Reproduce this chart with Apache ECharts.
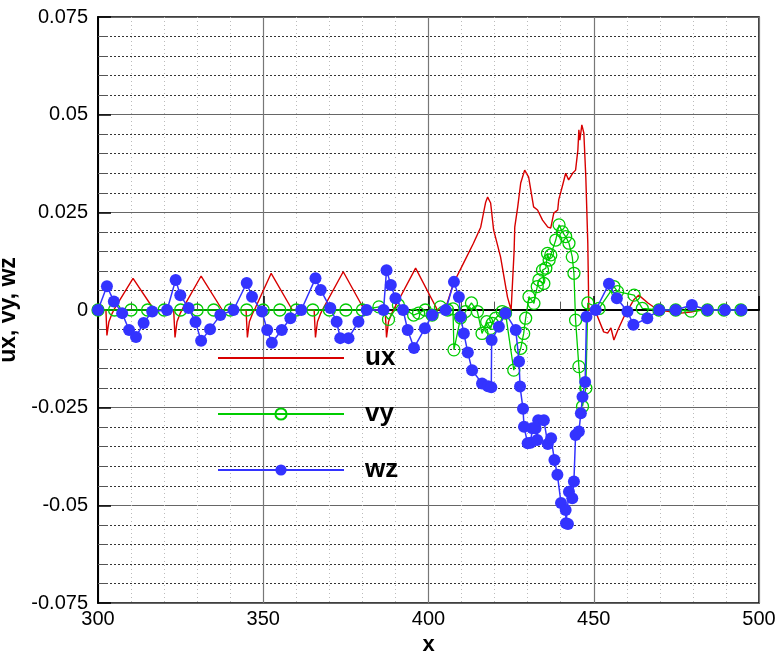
<!DOCTYPE html>
<html><head><meta charset="utf-8">
<script src="https://cdn.jsdelivr.net/npm/echarts@6/dist/echarts.min.js"></script>
<style>html,body{margin:0;padding:0;background:#fff}#c{width:777px;height:653px}</style>
</head><body><div id="c"></div>
<script>
const seriesNames = ['ux', 'vy', 'wz'];
const xRange = [300, 500];
const yRange = [-0.075, 0.075];

const uxX = [300,302.4,302.7,303.3,304.2,305.1,310.6,317.0,322.9,323.3,323.9,324.8,325.7,331.2,337.6,344.8,345.2,345.8,346.7,347.6,352.4,358.8,365.4,365.8,366.4,367.3,368.2,374.2,380.6,386.9,387.3,387.9,388.8,389.7,396.1,402.7,405.2,407.6,410.6,413.6,415.8,417.3,417.9,418.8,419.7,421.8,423.9,425.0,425.6,425.9,426.1,427.0,427.9,429.1,430.3,431.8,433.0,434.5,436.1,437.0,437.9,439.1,439.4,440.6,441.5,442.4,443.6,444.5,445.2,445.5,445.8,446.4,447.0,447.6,448.2,448.5,450.6,453.0,454.2,455.2,456.1,457.3,459.1,462.1,463.6,466.4,469.4,476.4,479.4,482.4,495];
const uxY = [0,0,-0.0065,-0.003,-0.001,0.0005,0.0081,0,0,-0.007,-0.003,-0.001,0.0005,0.0087,0,0,-0.007,-0.003,-0.001,0.0005,0.0094,0,0,-0.007,-0.003,-0.001,0.0005,0.0098,0,0,-0.007,-0.003,-0.001,0.0005,0.0107,0,0.0005,0.0069,0.012,0.0171,0.0212,0.0276,0.0289,0.0274,0.0205,0.0136,0.0033,0,-0.0005,0.015,0.0212,0.0264,0.0325,0.0358,0.034,0.0264,0.0256,0.023,0.0212,0.021,0.0248,0.0256,0.0282,0.032,0.035,0.0333,0.035,0.0358,0.041,0.0461,0.0435,0.0474,0.0453,0.034,0.0171,0,-0.0005,-0.0056,-0.0059,-0.0046,-0.0077,-0.0051,-0.0018,0.0026,0.0038,0.0018,0,-0.0008,-0.0005,0,0];

const vyX = [300,305,310,315,320,325,330,335,340,345,350,355,360,365,370,375,380,385,387.9,390.9,395.5,397,399,401.1,403.6,405.8,407.4,407.7,409.7,411.2,413,414.8,416.2,417.6,418.8,419.3,420.3,422.3,423.3,425.8,427.9,428.8,429.4,430.4,431.9,432.9,433.4,434.9,434.5,435.5,436.0,436.5,437.0,438.5,439.5,440.5,441.5,442.5,443.5,444.0,444.5,445.5,446.6,447.6,448.2,451.6,456.1,457.2,462.2,464.7,469.7,474.8,479.4,484.4,489.4,494.5];
const vyY = [0,0,0,0,0,0,0,0,0,0,0,0,0,0,0,0,0,0.0008,-0.0024,0.0013,-0.0013,-0.0008,0,-0.0013,0.0008,0,0.0003,-0.0102,-0.002,-0.0004,0.0018,-0.0004,-0.006,-0.003,-0.0047,-0.0034,-0.0021,-0.0004,-0.0008,-0.0154,-0.0098,-0.006,-0.0021,0.0034,0.0017,0.006,0.0077,0.0068,0.0102,0.0107,0.0145,0.0128,0.0141,0.0179,0.0218,0.02,0.0188,0.0171,0.0136,0.0094,-0.0026,-0.0145,-0.0247,-0.02,0.0018,0.0004,0.006,0.0047,0.0038,0.0004,0,0,-0.0003,0,0,0];

const wzX = [300,302.7,304.8,307.3,309.4,311.5,313.8,316.4,320.9,323.5,324.9,327.4,329.5,331.2,333.9,337.0,341.0,345.0,346.6,349.6,351.2,352.6,355.6,358.2,361.5,365.8,367.4,370.3,372.2,373.3,375.8,378.8,381.3,386.4,387.3,388.6,390.0,392.3,393.7,395.6,398.9,401.1,405.2,407.7,409.2,409.7,410.7,411.9,413.2,416.2,418.0,419.0,419.1,421.3,423.3,426.4,427.4,427.7,428.6,428.9,430.0,430.9,431.4,432.4,432.9,433.2,434.9,436.1,437.1,438.1,439.0,440.1,441.5,441.6,442.2,442.5,443.5,444.0,444.5,445.5,446.1,446.6,447.4,447.8,450.6,454.6,457.0,460.2,462.0,466.2,469.8,474.8,479.7,484.4,489.7,494.7];
const wzY = [0,0.0061,0.0022,-0.0008,-0.0051,-0.0069,-0.0033,-0.0004,0,0.0077,0.0038,0.0005,-0.0031,-0.0079,-0.0049,-0.0013,0,0.0069,0.0034,-0.0004,-0.0051,-0.0084,-0.0051,-0.0021,0,0.0081,0.0051,0.0005,-0.003,-0.0072,-0.0072,-0.003,0,0,0.0102,0.0064,0.003,0,-0.0051,-0.0097,-0.0047,-0.0013,0,0.0072,0.0033,-0.0017,-0.006,-0.0109,-0.0154,-0.0188,-0.0195,-0.0198,-0.0077,-0.0043,-0.0008,-0.0051,-0.0132,-0.0196,-0.0253,-0.0299,-0.0341,-0.034,-0.0303,-0.0303,-0.0333,-0.0282,-0.0282,-0.0343,-0.0328,-0.0384,-0.0422,-0.0494,-0.0512,-0.0546,-0.0548,-0.0465,-0.0482,-0.0439,-0.032,-0.0311,-0.0264,-0.0222,-0.0184,-0.0017,0,0.0067,0.003,-0.0004,-0.0038,-0.0021,0,0,0.0013,0,0,0];

const pair = (xs, ys) => xs.map((x, i) => [x, ys[i]]);
const FONT = 'Liberation Sans';
const chart = echarts.init(document.getElementById('c'), null, {renderer: 'canvas'});
chart.setOption({
  animation: false,
  backgroundColor: '#fff',
  grid: {left: 98, right: 18, top: 17, bottom: 50, outerBoundsMode: 'none', containLabel: false,
    show: true, borderColor: '#000', borderWidth: 1.5, backgroundColor: 'transparent'},
  legend: {
    orient: 'vertical', left: 217, top: 345, padding: 0, itemWidth: 126, itemHeight: 14, itemGap: 30,
    data: [
      {name: 'ux', itemStyle: {color: 'rgba(0,0,0,0)', borderColor: 'rgba(0,0,0,0)', borderWidth: 0}},
      {name: 'vy'},
      {name: 'wz'}
    ],
    textStyle: {fontSize: 26, fontWeight: 'bold', color: '#000', fontFamily: FONT, padding: [0, 0, 0, 16]},
    selectedMode: false
  },
  xAxis: {
    type: 'value', min: xRange[0], max: xRange[1], interval: 50,
    name: 'x', nameLocation: 'middle', nameGap: 30,
    nameTextStyle: {fontSize: 22, fontWeight: 'bold', color: '#000', fontFamily: FONT},
    axisLine: {show: true, lineStyle: {color: '#000', width: 2}},
    axisTick: {show: true, inside: true, length: 14, lineStyle: {color: '#000', width: 1.5}},
    minorTick: {show: true, splitNumber: 5, length: 8, lineStyle: {color: '#555', width: 1}},
    axisLabel: {fontSize: 20, color: '#000', fontFamily: FONT, margin: 6},
    splitLine: {show: true, lineStyle: {color: '#777', width: 1.2}},
    minorSplitLine: {show: true, lineStyle: {color: '#bbb', width: 1, type: [1, 3]}}
  },
  yAxis: {
    type: 'value', min: yRange[0], max: yRange[1], interval: 0.025,
    name: 'ux, vy, wz', nameLocation: 'middle', nameGap: 72, nameRotate: 90,
    nameTextStyle: {fontSize: 23, fontWeight: 'bold', color: '#000', fontFamily: FONT},
    axisLine: {show: true, lineStyle: {color: '#000', width: 2}},
    axisTick: {show: true, inside: true, length: 13, lineStyle: {color: '#000', width: 1.5}},
    minorTick: {show: true, splitNumber: 5, length: 10, lineStyle: {color: '#555', width: 1}},
    axisLabel: {fontSize: 20, color: '#000', fontFamily: FONT, margin: 10,
      formatter: v => String(+v.toFixed(3))},
    splitLine: {show: true, lineStyle: {color: '#666', width: 1.2}},
    minorSplitLine: {show: true, lineStyle: {color: '#333', width: 1, type: [2, 2]}}
  },
  series: [
    {name: 'ux', type: 'line', data: pair(uxX, uxY), symbol: 'none', silent: true,
      lineStyle: {color: '#d80000', width: 1.4}, itemStyle: {color: '#d80000'}, z: 2},
    {name: 'vy', type: 'line', data: pair(vyX, vyY), symbol: 'circle', symbolSize: 12, silent: true,
      lineStyle: {color: '#00cc00', width: 1.3},
      itemStyle: {color: 'rgba(255,255,255,0)', borderColor: '#00cc00', borderWidth: 1.3}, z: 3},
    {name: 'wz', type: 'line', data: pair(wzX, wzY), symbol: 'circle', symbolSize: 12, silent: true,
      lineStyle: {color: '#3333ff', width: 1.5},
      itemStyle: {color: '#3333ff'}, z: 4}
  ]
});
</script>
</body></html>
